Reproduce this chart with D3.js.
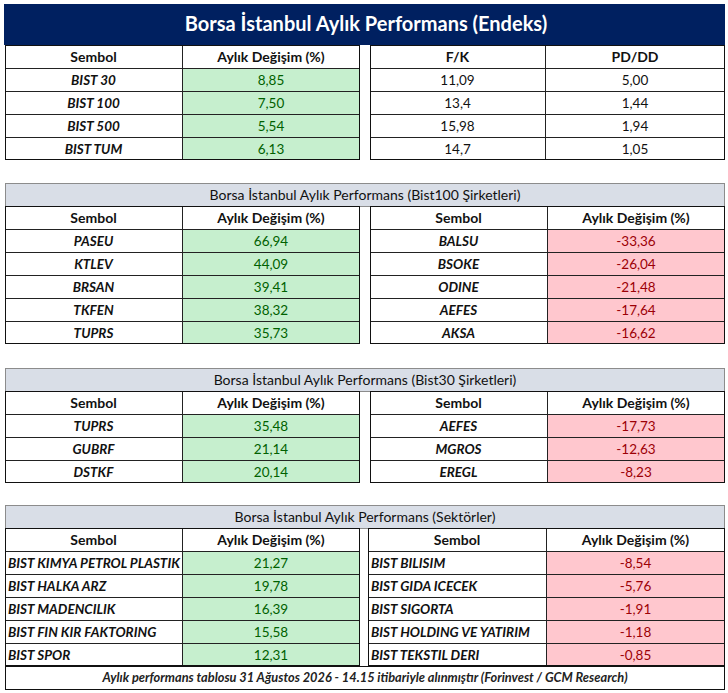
<!DOCTYPE html>
<html>
<head>
<meta charset="utf-8">
<script src="https://cdn.jsdelivr.net/npm/d3@7"></script>
<style>
  body { margin: 0; background: #fff; }
  svg text { font-family: Lato, "Open Sans", sans-serif; }
</style>
</head>
<body>
<div id="chart"></div>
<script>
// Endeks
var indexNames = ["BIST 30", "BIST 100", "BIST 500", "BIST TUM"];
var indexChange = [8.85, 7.50, 5.54, 6.13];
var indexFK = [11.09, 13.4, 15.98, 14.7];
var indexPDDD = [5.00, 1.44, 1.94, 1.05];

// Bist100 sirketleri
var b100UpNames = ["PASEU", "KTLEV", "BRSAN", "TKFEN", "TUPRS"];
var b100UpValues = [66.94, 44.09, 39.41, 38.32, 35.73];
var b100DownNames = ["BALSU", "BSOKE", "ODINE", "AEFES", "AKSA"];
var b100DownValues = [-33.36, -26.04, -21.48, -17.64, -16.62];

// Bist30 sirketleri
var b30UpNames = ["TUPRS", "GUBRF", "DSTKF"];
var b30UpValues = [35.48, 21.14, 20.14];
var b30DownNames = ["AEFES", "MGROS", "EREGL"];
var b30DownValues = [-17.73, -12.63, -8.23];

// Sektorler
var secUpNames = ["BIST KIMYA PETROL PLASTIK", "BIST HALKA ARZ", "BIST MADENCILIK", "BIST FIN KIR FAKTORING", "BIST SPOR"];
var secUpValues = [21.27, 19.78, 16.39, 15.58, 12.31];
var secDownNames = ["BIST BILISIM", "BIST GIDA ICECEK", "BIST SIGORTA", "BIST HOLDING VE YATIRIM", "BIST TEKSTIL DERI"];
var secDownValues = [-8.54, -5.76, -1.91, -1.18, -0.85];

var footerText = "Aylık performans tablosu 31 Ağustos 2026 - 14.15 itibariyle alınmıştır (Forinvest / GCM Research)";

var w = 728, h = 693;
var rowH = 23;
var GREEN_BG = "#c6efce", GREEN_TX = "#006100";
var RED_BG = "#ffc7ce", RED_TX = "#9c0006";

var svg = d3.select("#chart").append("svg").attr("width", w).attr("height", h);

function fmt2(v) { return v.toFixed(2).replace(".", ","); }
function fmtRaw(v) { return String(v).replace(".", ","); }

// one small table: header row + data rows, columns from a band scale
function drawTable(x0, x1, split, yTop, headers, names, cols, opts) {
  var g = svg.append("g");
  var n = names.length;
  var y = d3.scaleBand().domain(d3.range(n + 1)).range([yTop, yTop + (n + 1) * rowH]);
  var x = d3.scaleOrdinal().domain([0, 1, 2]).range([x0, split, x1]);

  // header
  g.append("rect").attr("x", x(0)).attr("y", y(0)).attr("width", x(2) - x(0)).attr("height", rowH)
    .attr("fill", "#fff");
  headers.forEach(function (t, i) {
    g.append("text").attr("x", (x(i) + x(i + 1)) / 2).attr("y", y(0) + rowH / 2 + 5)
      .attr("text-anchor", "middle").attr("font-size", "14px").attr("font-weight", "bold")
      .attr("fill", "#111").text(t);
  });

  var rows = g.selectAll("g.row").data(names).enter().append("g").attr("class", "row");
  // value cells
  rows.append("rect")
    .attr("x", x(1)).attr("y", function (d, i) { return y(i + 1); })
    .attr("width", x(2) - x(1)).attr("height", rowH)
    .attr("fill", function (d, i) { return opts.fill ? opts.fill(cols[0][i]) : "#fff"; });
  rows.append("text")
    .attr("x", opts.leftAlign ? x(0) + 3 : (x(0) + x(1)) / 2)
    .attr("y", function (d, i) { return y(i + 1) + rowH / 2 + 5; })
    .attr("text-anchor", opts.leftAlign ? "start" : "middle")
    .attr("font-size", "13.5px").attr("font-weight", "bold").attr("font-style", "italic")
    .attr("fill", "#111").text(function (d) { return d; });
  rows.append("text")
    .attr("x", (x(1) + x(2)) / 2)
    .attr("y", function (d, i) { return y(i + 1) + rowH / 2 + 5; })
    .attr("text-anchor", "middle").attr("font-size", "13.5px")
    .attr("fill", function (d, i) { return opts.color ? opts.color(cols[0][i]) : "#111"; })
    .text(function (d, i) { return opts.format[0](cols[0][i]); });

  // grid lines
  d3.range(1, n + 1).forEach(function (i) {
    g.append("line").attr("x1", x(0)).attr("x2", x(2)).attr("y1", y(i) + 0.5).attr("y2", y(i) + 0.5)
      .attr("stroke", "#222").attr("stroke-width", 1);
  });
  g.append("line").attr("x1", x(1) + 0.5).attr("x2", x(1) + 0.5).attr("y1", y(0)).attr("y2", y(n) + rowH)
    .attr("stroke", "#222");
  g.append("rect").attr("x", x(0) + 0.5).attr("y", y(0) + 0.5).attr("width", x(2) - x(0) - 1)
    .attr("height", (n + 1) * rowH - 1).attr("fill", "none").attr("stroke", "#111");
  return g;
}

// two-column value table (F/K, PD/DD)
function drawPlainTable(x0, x1, split, yTop, headers, a, b) {
  var g = svg.append("g");
  var n = a.length;
  var y = d3.scaleBand().domain(d3.range(n + 1)).range([yTop, yTop + (n + 1) * rowH]);
  var xs = [x0, split, x1];
  headers.forEach(function (t, i) {
    g.append("text").attr("x", (xs[i] + xs[i + 1]) / 2).attr("y", y(0) + rowH / 2 + 5)
      .attr("text-anchor", "middle").attr("font-size", "14px").attr("font-weight", "bold")
      .attr("fill", "#111").text(t);
  });
  [a, b].forEach(function (col, c) {
    g.selectAll("text.c" + c).data(col).enter().append("text").attr("class", "c" + c)
      .attr("x", (xs[c] + xs[c + 1]) / 2)
      .attr("y", function (d, i) { return y(i + 1) + rowH / 2 + 5; })
      .attr("text-anchor", "middle").attr("font-size", "13.5px").attr("fill", "#111")
      .text(function (d) { return c == 0 ? fmtRaw(d) : fmt2(d); });
  });
  d3.range(1, n + 1).forEach(function (i) {
    g.append("line").attr("x1", x0).attr("x2", x1).attr("y1", y(i) + 0.5).attr("y2", y(i) + 0.5)
      .attr("stroke", "#222");
  });
  g.append("line").attr("x1", split + 0.5).attr("x2", split + 0.5).attr("y1", yTop).attr("y2", yTop + (n + 1) * rowH)
    .attr("stroke", "#222");
  g.append("rect").attr("x", x0 + 0.5).attr("y", yTop + 0.5).attr("width", x1 - x0 - 1)
    .attr("height", (n + 1) * rowH - 1).attr("fill", "none").attr("stroke", "#111");
}

function sectionTitle(y0, y1, text) {
  svg.append("rect").attr("x", 5.5).attr("y", y0 + 0.5).attr("width", 719).attr("height", y1 - y0)
    .attr("fill", "#d9dee7").attr("stroke", "#8c8c8c");
  svg.append("text").attr("x", 365).attr("y", (y0 + y1) / 2 + 5).attr("text-anchor", "middle")
    .attr("font-size", "14px").attr("fill", "#111").text(text);
}

var up = { fill: function () { return GREEN_BG; }, color: function () { return GREEN_TX; }, format: [fmt2] };
var down = { fill: function () { return RED_BG; }, color: function () { return RED_TX; }, format: [fmt2] };
var hdr = ["Sembol", "Aylık Değişim (%)"];

// --- section 1: Endeks
svg.append("rect").attr("x", 4).attr("y", 4).attr("width", 721).attr("height", 41).attr("fill", "#002060");
svg.append("text").attr("x", 366).attr("y", 31).attr("text-anchor", "middle")
  .attr("font-size", "20px").attr("font-weight", "bold").attr("fill", "#fff")
  .text("Borsa İstanbul Aylık Performans (Endeks)");
drawTable(5, 360, 182, 45, hdr, indexNames, [indexChange], up);
drawPlainTable(370, 725, 545, 45, ["F/K", "PD/DD"], indexFK, indexPDDD);

// --- section 2: Bist100
sectionTitle(183, 206, "Borsa İstanbul Aylık Performans (Bist100 Şirketleri)");
drawTable(5, 360, 182, 206, hdr, b100UpNames, [b100UpValues], up);
drawTable(370, 725, 547, 206, hdr, b100DownNames, [b100DownValues], down);

// --- section 3: Bist30
sectionTitle(368, 391, "Borsa İstanbul Aylık Performans (Bist30 Şirketleri)");
drawTable(5, 360, 182, 391, hdr, b30UpNames, [b30UpValues], up);
drawTable(370, 725, 547, 391, hdr, b30DownNames, [b30DownValues], down);

// --- section 4: Sektorler
sectionTitle(505, 528, "Borsa İstanbul Aylık Performans (Sektörler)");
var secUp = Object.assign({ leftAlign: true }, up);
var secDown = Object.assign({ leftAlign: true }, down);
drawTable(5, 360, 182, 528, hdr, secUpNames, [secUpValues], secUp);
drawTable(368, 725, 546, 528, hdr, secDownNames, [secDownValues], secDown);

// footer
svg.append("rect").attr("x", 5.5).attr("y", 666.5).attr("width", 719).attr("height", 23)
  .attr("fill", "#fff").attr("stroke", "#111");
svg.append("text").attr("x", 365).attr("y", 682).attr("text-anchor", "middle")
  .attr("font-size", "12.8px").attr("font-weight", "bold").attr("font-style", "italic")
  .attr("fill", "#222").text(footerText);
</script>
</body>
</html>
